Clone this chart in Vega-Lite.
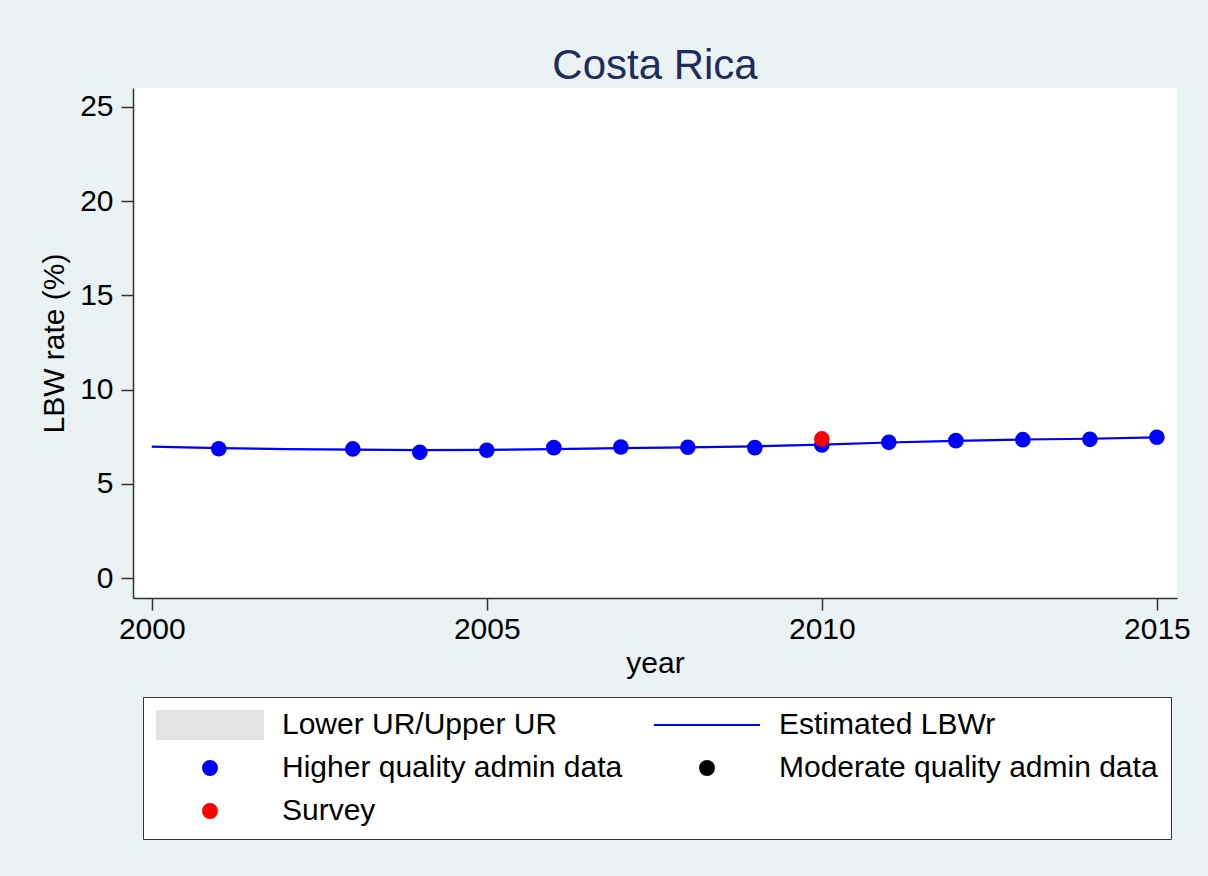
{
  "$schema": "https://vega.github.io/schema/vega-lite/v6.json",
  "width": 1044,
  "height": 510,
  "autosize": {"type": "none"},
  "padding": {"left": 133, "top": 88, "right": 31, "bottom": 278},
  "background": "#EAF2F3",
  "title": {"text": "Costa Rica", "fontSize": 42, "font": "Liberation Sans", "fontWeight": "normal", "color": "#1e2d5e", "anchor": "middle", "offset": -33, "baseline": "alphabetic"},
  "config": {
    "view": {"fill": "white", "stroke": null},
    "axis": {
      "domainColor": "#333333", "domainWidth": 1.5, "tickColor": "#333333", "tickWidth": 1.5, "tickSize": 12,
      "labelFont": "Liberation Sans", "labelFontSize": 30, "labelColor": "black",
      "titleFont": "Liberation Sans", "titleFontSize": 30, "titleFontWeight": "normal", "titleColor": "black",
      "grid": false
    }
  },
  "datasets": {
    "est": [
      {"year": 2000, "estimate": 6.97, "lower": 6.92, "upper": 7.02},
      {"year": 2001, "estimate": 6.89, "lower": 6.84, "upper": 6.94},
      {"year": 2002, "estimate": 6.84, "lower": 6.79, "upper": 6.89},
      {"year": 2003, "estimate": 6.81, "lower": 6.76, "upper": 6.86},
      {"year": 2004, "estimate": 6.79, "lower": 6.74, "upper": 6.84},
      {"year": 2005, "estimate": 6.80, "lower": 6.75, "upper": 6.85},
      {"year": 2006, "estimate": 6.84, "lower": 6.79, "upper": 6.89},
      {"year": 2007, "estimate": 6.89, "lower": 6.84, "upper": 6.94},
      {"year": 2008, "estimate": 6.93, "lower": 6.88, "upper": 6.98},
      {"year": 2009, "estimate": 6.99, "lower": 6.94, "upper": 7.04},
      {"year": 2010, "estimate": 7.08, "lower": 7.03, "upper": 7.13},
      {"year": 2011, "estimate": 7.19, "lower": 7.14, "upper": 7.24},
      {"year": 2012, "estimate": 7.28, "lower": 7.23, "upper": 7.33},
      {"year": 2013, "estimate": 7.35, "lower": 7.30, "upper": 7.40},
      {"year": 2014, "estimate": 7.39, "lower": 7.34, "upper": 7.44},
      {"year": 2015, "estimate": 7.46, "lower": 7.41, "upper": 7.51}
    ],
    "obs": [
      {"year": 2001, "value": 6.86, "source": "Higher quality admin data"},
      {"year": 2003, "value": 6.85, "source": "Higher quality admin data"},
      {"year": 2004, "value": 6.67, "source": "Higher quality admin data"},
      {"year": 2005, "value": 6.78, "source": "Higher quality admin data"},
      {"year": 2006, "value": 6.92, "source": "Higher quality admin data"},
      {"year": 2007, "value": 6.95, "source": "Higher quality admin data"},
      {"year": 2008, "value": 6.94, "source": "Higher quality admin data"},
      {"year": 2009, "value": 6.92, "source": "Higher quality admin data"},
      {"year": 2010, "value": 7.06, "source": "Higher quality admin data"},
      {"year": 2011, "value": 7.20, "source": "Higher quality admin data"},
      {"year": 2012, "value": 7.29, "source": "Higher quality admin data"},
      {"year": 2013, "value": 7.34, "source": "Higher quality admin data"},
      {"year": 2014, "value": 7.36, "source": "Higher quality admin data"},
      {"year": 2015, "value": 7.47, "source": "Higher quality admin data"},
      {"year": 2010, "value": 7.38, "source": "Survey"}
    ]
  },
  "layer": [
    {
      "data": {"name": "est"},
      "mark": {"type": "area", "opacity": 1},
      "encoding": {
        "x": {"field": "year", "type": "quantitative", "scale": {"domain": [1999.72, 2015.3], "nice": false, "zero": false},
              "axis": {"values": [2000, 2005, 2010, 2015], "format": "d", "title": "year", "labelPadding": 4, "titlePadding": 4, "labelFlush": false}},
        "y": {"field": "lower", "type": "quantitative", "scale": {"domain": [-1.06, 26.0], "nice": false, "zero": false},
              "axis": {"values": [0, 5, 10, 15, 20, 25], "title": "LBW rate (%)", "labelPadding": 8, "titlePadding": 10}},
        "y2": {"field": "upper"},
        "color": {"datum": "Lower UR/Upper UR", "type": "nominal"}
      }
    },
    {
      "data": {"name": "est"},
      "mark": {"type": "line", "strokeWidth": 2.2},
      "encoding": {
        "x": {"field": "year", "type": "quantitative"},
        "y": {"field": "estimate", "type": "quantitative"},
        "color": {"datum": "Estimated LBWr", "type": "nominal"}
      }
    },
    {
      "data": {"name": "obs"},
      "mark": {"type": "point", "filled": true, "size": 245, "opacity": 1},
      "encoding": {
        "x": {"field": "year", "type": "quantitative"},
        "y": {"field": "value", "type": "quantitative"},
        "shape": {
          "field": "source", "type": "nominal",
          "scale": {
            "domain": ["Lower UR/Upper UR", "Higher quality admin data", "Survey", "Estimated LBWr", "Moderate quality admin data"],
            "range": ["M-6.78,-1.88H6.78V1.88H-6.78Z", "circle", "circle", "M-6.65,-0.14H6.65V0.14H-6.65Z", "circle"]
          },
          "legend": {
            "title": null, "orient": "none", "legendX": 10, "legendY": 609,
            "columns": 2, "columnPadding": 30, "rowPadding": 13, "padding": 13,
            "strokeColor": "#333333", "fillColor": "white",
            "symbolSize": 254, "symbolOffset": 39, "labelOffset": 57, "symbolStrokeWidth": 0,
            "labelFont": "Liberation Sans", "labelFontSize": 30, "labelColor": "black", "labelLimit": 600
          }
        },
        "color": {
          "field": "source", "type": "nominal",
          "scale": {
            "domain": ["Lower UR/Upper UR", "Higher quality admin data", "Survey", "Estimated LBWr", "Moderate quality admin data"],
            "range": ["#e3e3e3", "blue", "red", "blue", "black"]
          },
          "legend": {
            "title": null, "orient": "none", "legendX": 10, "legendY": 609,
            "columns": 2, "columnPadding": 30, "rowPadding": 13, "padding": 13,
            "strokeColor": "#333333", "fillColor": "white",
            "symbolSize": 254, "symbolOffset": 39, "labelOffset": 57, "symbolStrokeWidth": 0,
            "labelFont": "Liberation Sans", "labelFontSize": 30, "labelColor": "black", "labelLimit": 600
          }
        }
      }
    }
  ]
}
